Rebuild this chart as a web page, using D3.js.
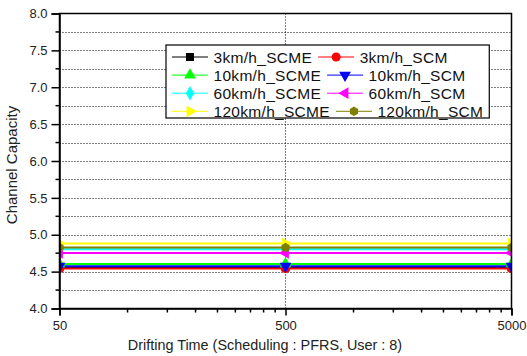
<!DOCTYPE html>
<html>
<head>
<meta charset="utf-8">
<script src="https://cdn.jsdelivr.net/npm/d3@7"></script>
<style>
  html, body { margin: 0; padding: 0; background: #fff; }
  svg { display: block; font-family: "Liberation Sans", Arial, sans-serif; }
</style>
</head>
<body>
<svg id="chart" width="527" height="356"></svg>
<script>
// Drifting time samples (log x axis)
const driftTimes = [50, 500, 5000];
const xTickValues = [50, 500, 5000];
const yTickValues = [4.0, 4.5, 5.0, 5.5, 6.0, 6.5, 7.0, 7.5, 8.0];

// Series labels, colours and markers
const seriesNames = ["3km/h_SCME", "3km/h_SCM", "10km/h_SCME", "10km/h_SCM",
                     "60km/h_SCME", "60km/h_SCM", "120km/h_SCME", "120km/h_SCM"];
const seriesColors = ["#000000", "#ff0000", "#00ff00", "#0000ff",
                      "#00ffff", "#ff00ff", "#ffff00", "#808000"];
const seriesMarkers = ["square", "circle", "up", "down", "diamond", "left", "right", "hexagon"];

// Channel capacity per series at each drifting time
const cap3SCME   = [4.556, 4.556, 4.556];
const cap3SCM    = [4.542, 4.542, 4.542];
const cap10SCME  = [4.605, 4.605, 4.605];
const cap10SCM   = [4.574, 4.574, 4.574];
const cap60SCME  = [4.804, 4.804, 4.804];
const cap60SCM   = [4.754, 4.754, 4.754];
const cap120SCME = [4.881, 4.881, 4.881];
const cap120SCM  = [4.827, 4.827, 4.827];
const seriesValues = [cap3SCME, cap3SCM, cap10SCME, cap10SCM,
                      cap60SCME, cap60SCM, cap120SCME, cap120SCM];

const svg = d3.select("#chart");
const plotL = 59.5, plotR = 511.5, plotT = 13.5, plotB = 308.5;

const x = d3.scaleLog().domain([50, 5000]).range([plotL, plotR]);
const y = d3.scaleLinear().domain([4, 8]).range([plotB, plotT]);

// clip for data
svg.append("defs").append("clipPath").attr("id", "plotClip")
  .append("rect").attr("x", plotL).attr("y", plotT)
  .attr("width", plotR - plotL).attr("height", plotB - plotT);

// dotted grid at every quarter unit
const gridY = d3.range(4.25, 8.0, 0.25);
svg.append("g").selectAll("line").data(gridY).join("line")
  .attr("x1", plotL).attr("x2", plotR)
  .attr("y1", d => Math.round(y(d)) + 0.5).attr("y2", d => Math.round(y(d)) + 0.5)
  .attr("stroke", "#000").attr("stroke-width", 1).attr("stroke-dasharray", "1,2");
svg.append("g").selectAll("line").data([500]).join("line")
  .attr("x1", d => Math.round(x(d)) + 0.5).attr("x2", d => Math.round(x(d)) + 0.5)
  .attr("y1", plotT).attr("y2", plotB)
  .attr("stroke", "#000").attr("stroke-width", 1).attr("stroke-dasharray", "1,2");

// marker shapes
const symMap = {
  square: d3.symbolSquare, circle: d3.symbolCircle, up: d3.symbolTriangle,
  down: d3.symbolTriangle, diamond: d3.symbolDiamond, left: d3.symbolTriangle,
  right: d3.symbolTriangle, hexagon: d3.symbolCircle
};
const rotMap = { up: 0, down: 180, left: -90, right: 90 };
function markerPath(kind, size) {
  if (kind === "hexagon") {
    const r = Math.sqrt(size / Math.PI) * 1.05;
    const pts = d3.range(6).map(i => {
      const a = Math.PI / 6 + i * Math.PI / 3;
      return [r * Math.cos(a), r * Math.sin(a)];
    });
    return "M" + pts.map(p => p.join(",")).join("L") + "Z";
  }
  return d3.symbol().type(symMap[kind]).size(size)();
}
function markerTransform(kind, cx, cy) {
  const rot = rotMap[kind] || 0;
  return `translate(${cx},${cy}) rotate(${rot})`;
}
const markerSize = { square: 64, circle: 64, up: 60, down: 60, diamond: 60, left: 60, right: 60, hexagon: 64 };

// series lines and markers
const line = d3.line().x((d, i) => x(driftTimes[i])).y(d => y(d));
const dataG = svg.append("g").attr("clip-path", "url(#plotClip)");
seriesValues.forEach((vals, s) => {
  dataG.append("path").datum(vals)
    .attr("d", line).attr("fill", "none")
    .attr("stroke", seriesColors[s]).attr("stroke-width", 2);
});
seriesValues.forEach((vals, s) => {
  dataG.append("g").selectAll("path").data(vals).join("path")
    .attr("d", markerPath(seriesMarkers[s], markerSize[seriesMarkers[s]]))
    .attr("transform", (d, i) => markerTransform(seriesMarkers[s], x(driftTimes[i]), y(d)))
    .attr("fill", seriesColors[s]).attr("stroke", "none");
});

// frame
svg.append("rect").attr("x", plotL).attr("y", plotT)
  .attr("width", plotR - plotL).attr("height", plotB - plotT)
  .attr("fill", "none").attr("stroke", "#000").attr("stroke-width", 1.5);

// axes
const yAxis = d3.axisLeft(y).tickValues(yTickValues).tickFormat(d3.format(".1f"))
  .tickSize(8).tickPadding(4);
const yG = svg.append("g").attr("transform", `translate(${plotL},0)`).call(yAxis);
svg.append("g").selectAll("line").data(gridY.filter(v => Math.abs(v * 2 - Math.round(v * 2)) > 0.01)).join("line")
  .attr("x1", plotL - 4).attr("x2", plotL)
  .attr("y1", d => y(d)).attr("y2", d => y(d))
  .attr("stroke", "#000").attr("stroke-width", 1.5);

const xAxis = d3.axisBottom(x).tickValues(xTickValues).tickFormat(d3.format("d"))
  .tickSize(7).tickPadding(5);
const xG = svg.append("g").attr("transform", `translate(0,${plotB})`).call(xAxis);
// minor ticks at multiples of each decade start
const minorXVals = [];
[50, 500].forEach(b => { for (let k = 2; k <= 9; k++) minorXVals.push(b * k); });
svg.append("g").selectAll("line").data(minorXVals).join("line")
  .attr("x1", d => x(d)).attr("x2", d => x(d))
  .attr("y1", plotB).attr("y2", plotB + 4)
  .attr("stroke", "#000").attr("stroke-width", 1.5);

[yG, xG].forEach(g => {
  g.select(".domain").attr("stroke-width", 1.5);
  g.selectAll(".tick line").attr("stroke-width", 1.5);
  g.selectAll(".tick text").attr("font-size", 13).attr("fill", "#222")
    .attr("font-family", "Liberation Sans, Arial, sans-serif");
});

// axis titles
svg.append("text").attr("x", 265).attr("y", 350).attr("text-anchor", "middle")
  .attr("font-size", 14.4).attr("fill", "#222")
  .text("Drifting Time (Scheduling : PFRS, User : 8)");
svg.append("text").attr("transform", "translate(17,165) rotate(-90)")
  .attr("text-anchor", "middle").attr("font-size", 15).attr("fill", "#222")
  .text("Channel Capacity");

// legend: two entries per row, the second entry follows the first one's text
const lg = svg.append("g");
const box = lg.append("rect").attr("x", 166).attr("y", 45).attr("height", 73)
  .attr("fill", "#fff").attr("stroke", "#000").attr("stroke-width", 1.2);
const rowY0 = 57, rowDy = 18.1;
let maxRight = 0;
for (let row = 0; row < 4; row++) {
  let lx = 172;
  const ly = rowY0 + row * rowDy;
  for (let col = 0; col < 2; col++) {
    const s = row * 2 + col;
    lg.append("line").attr("x1", lx).attr("x2", lx + 36).attr("y1", ly).attr("y2", ly)
      .attr("stroke", seriesColors[s]).attr("stroke-width", 1);
    lg.append("path").attr("d", markerPath(seriesMarkers[s], markerSize[seriesMarkers[s]]))
      .attr("transform", markerTransform(seriesMarkers[s], lx + 18, ly))
      .attr("fill", seriesColors[s]);
    const t = lg.append("text").attr("x", lx + 41.5).attr("y", ly + 5.5)
      .attr("font-size", 15.5).attr("letter-spacing", 0.3).attr("fill", "#111")
      .text(seriesNames[s]);
    const w = t.node().getComputedTextLength();
    lx = lx + 41.5 + w + 6;
    maxRight = Math.max(maxRight, lx);
  }
}
box.attr("width", maxRight - 166);
</script>
</body>
</html>
